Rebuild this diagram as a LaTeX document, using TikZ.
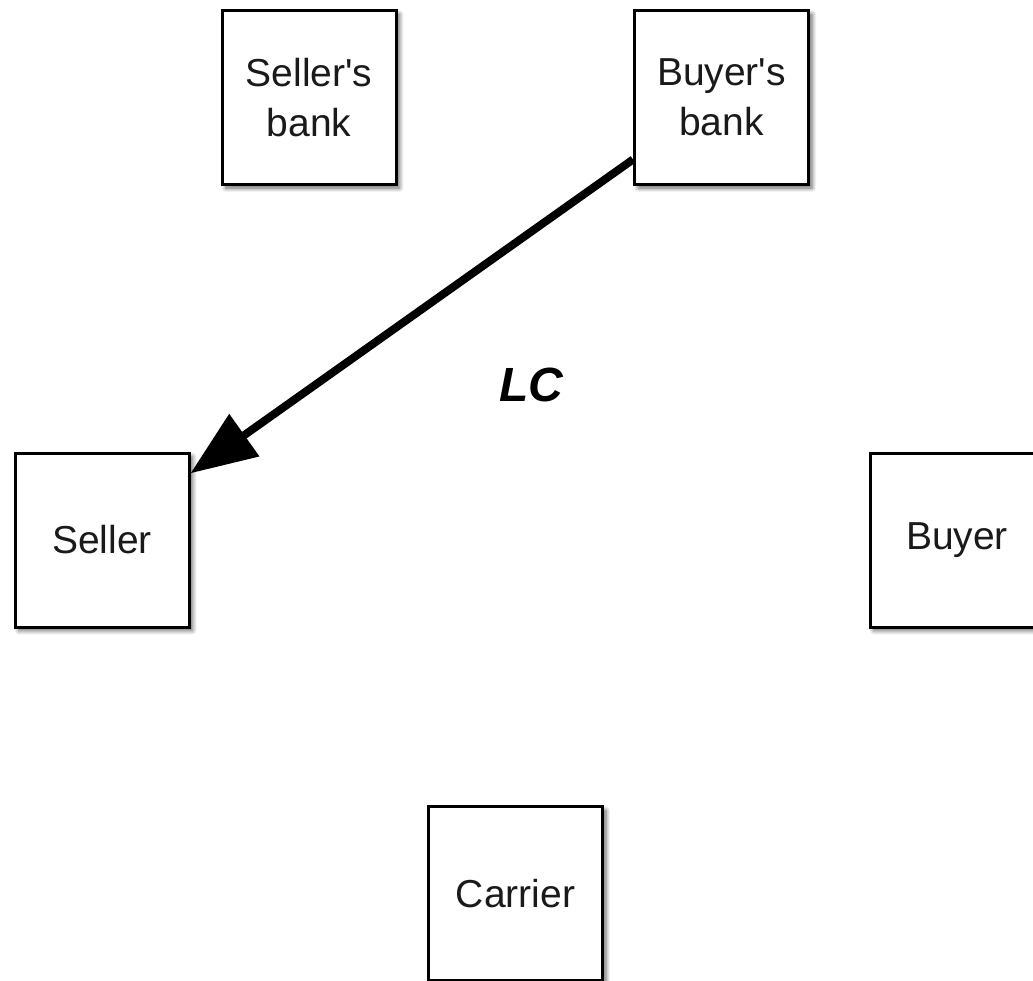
\documentclass[tikz,border=0pt]{standalone}
\usepackage{fontspec}
\setmainfont{Liberation Sans}
\usetikzlibrary{arrows.meta,shadows.blur}
\definecolor{txt}{HTML}{1A1A1A}
\tikzset{
  party/.style={draw=black, line width=1.5pt, fill=white, minimum width=87pt, minimum height=87pt,
    inner sep=0pt, align=center, text=txt, font=\fontsize{19.5}{25}\selectfont,
    blur shadow={shadow xshift=1.8pt, shadow yshift=-1.8pt, shadow blur steps=6, shadow opacity=60}},
  flow/.style={line width=4pt, -{Triangle[length=33pt,width=25pt]}},
  lbl/.style={font=\fontsize{24}{28}\selectfont\bfseries\itshape, text=black}
}
\begin{document}
\begin{tikzpicture}[x=0.5pt,y=-0.5pt]
\useasboundingbox (0,0) rectangle (1033,980);
\clip (0,0) rectangle (1033,980);
\node[party] (sbank) at (309,97.5) {Seller\textquotesingle s\\bank};
\node[party] (bbank) at (721.5,97.5) {Buyer\textquotesingle s\\bank};
\node[party] (seller) at (102,540) {Seller};
\node[party] (buyer) at (957,540) {Buyer};
\node[party] (carrier) at (515.5,893.5) {Carrier};
\draw[flow] (bbank.215) -- (seller.37);
\node[lbl] (lc) at (531,385) {LC};
\end{tikzpicture}
\end{document}
